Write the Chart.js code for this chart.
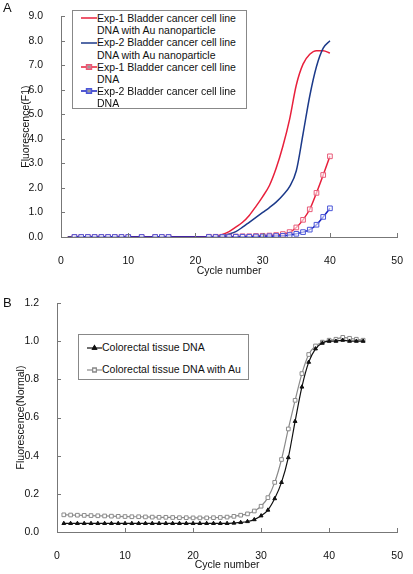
<!DOCTYPE html>
<html>
<head>
<meta charset="utf-8">
<script src="https://cdn.jsdelivr.net/npm/chart.js@4.4.1/dist/chart.umd.min.js"></script>
<style>
  body { margin: 0; background: #fff; font-family: "Liberation Sans", Arial, sans-serif; color: #111; }
  #wrap { position: relative; width: 413px; height: 574px; overflow: hidden; }
  canvas.chart { position: absolute; left: 0; }
  .letter { position: absolute; font-size: 13px; }
  .legend { position: absolute; background: #fff; border: 1px solid #888; box-sizing: border-box; font-size: 10.5px; }
  .legend .item { position: relative; }
  .legend canvas { position: absolute; }
</style>
</head>
<body>
<div id="wrap">
  <canvas id="chartA" class="chart" width="413" height="280" style="top:0"></canvas>
  <canvas id="chartB" class="chart" width="413" height="294" style="top:280px"></canvas>
  <div class="letter" style="left:3px;top:0px">A</div>
  <div class="letter" style="left:3px;top:295px">B</div>
  <div id="legendA" class="legend" style="left:72px;top:10px;width:175px;height:99px;padding-top:1px"></div>
  <div id="legendB" class="legend" style="left:78px;top:334px;width:171px;height:46px;padding-top:6px"></div>
</div>
<script>
// ---- Panel A data ----
const cyclesAu = [1,2,3,4,5,6,7,8,9,10,11,12,13,14,15,16,17,18,19,20,
                  21,22,23,24,25,26,27,28,29,30,31,32,33,34,35,36,37,38,39,40];
const exp1Au = [0,0,0,0,0,0,0,0,0,0,0,0,0,0,0,0,0,0,0,0,
                0,0,0.03,0.1,0.22,0.4,0.6,0.88,1.25,1.65,2.1,2.8,3.7,4.8,6.2,7.05,7.45,7.6,7.6,7.5];
const exp2Au = [0,0,0,0,0,0,0,0,0,0,0,0,0,0,0,0,0,0,0,0,
                0,0,0.01,0.05,0.12,0.22,0.4,0.6,0.8,1.0,1.2,1.42,1.7,2.05,2.7,4.2,5.75,6.95,7.7,8.0];
const cyclesDna = [2,3,4,5,6,7,8,9,10,12,14,15,16,22,23,24,25,26,27,28,29,30,31,32,33,34,35,36,37,38,39,40];
const exp1Dna = [0,0,0,0,0,0,0,0,0,0,0,0,0,0.01,0.01,0.01,0.02,0.02,0.03,0.03,0.04,0.05,0.06,0.08,0.12,0.2,0.39,0.7,1.13,1.8,2.53,3.29];
const exp2Dna = [0,0,0,0,0,0,0,0,0,0,0,0,0,0,0,0,0,0.01,0.01,0.01,0.02,0.02,0.03,0.04,0.05,0.08,0.13,0.2,0.3,0.5,0.82,1.17];
const labelsA = [
  ['Exp-1 Bladder cancer cell line', 'DNA with Au nanoparticle'],
  ['Exp-2 Bladder cancer cell line', 'DNA with Au nanoparticle'],
  ['Exp-1 Bladder cancer cell line', 'DNA'],
  ['Exp-2 Bladder cancer cell line', 'DNA']
];

// ---- Panel B data ----
const cyclesB = [1,2,3,4,5,6,7,8,9,10,11,12,13,14,15,16,17,18,19,20,21,22,23,
                 24,25,26,27,28,29,30,31,32,33,34,35,36,37,38,39,40,41,42,43,44,45];
const tissueDna = [0.045,0.045,0.045,0.045,0.045,0.045,0.045,0.045,0.045,0.045,0.045,0.045,0.045,0.045,0.045,
                   0.045,0.045,0.045,0.045,0.045,0.045,0.045,0.045,0.045,0.045,0.047,0.05,0.055,0.065,0.085,
                   0.115,0.175,0.26,0.39,0.58,0.76,0.89,0.96,0.99,1.0,1.0,1.005,1.0,1.0,1.0];
const tissueAu = [0.09,0.089,0.088,0.087,0.086,0.085,0.084,0.083,0.082,0.081,0.08,0.08,0.079,0.078,0.077,
                  0.077,0.076,0.075,0.075,0.074,0.074,0.074,0.075,0.076,0.078,0.082,0.088,0.095,0.11,0.135,
                  0.18,0.26,0.38,0.54,0.69,0.83,0.93,0.975,0.995,1.005,1.01,1.02,1.015,1.01,1.005];
const labelsB = [['Colorectal tissue DNA'], ['Colorectal tissue DNA with Au']];

const FONT = { family: '"Liberation Sans", Arial, sans-serif', size: 10.5 };
const AXIS = '#777';

function pts(xs, ys) {
  return xs.map((x, i) => ({ x: x, y: ys[i] }));
}

// small inward tick marks, like the original
const inwardTicks = {
  id: 'inwardTicks',
  afterDraw(chart) {
    const { ctx, scales: { x, y } } = chart;
    ctx.save();
    ctx.strokeStyle = AXIS;
    ctx.lineWidth = 1;
    ctx.beginPath();
    x.ticks.forEach(t => {
      const px = Math.round(x.getPixelForValue(t.value)) + 0.5;
      ctx.moveTo(px, x.top); ctx.lineTo(px, x.top - 4);
    });
    y.ticks.forEach(t => {
      const py = Math.round(y.getPixelForValue(t.value)) + 0.5;
      ctx.moveTo(y.right, py); ctx.lineTo(y.right + 4, py);
    });
    ctx.stroke();
    ctx.restore();
  }
};

function makeOptions(cfg) {
  return {
    responsive: false,
    animation: false,
    devicePixelRatio: 1,
    layout: { padding: cfg.padding },
    plugins: { legend: { display: false }, tooltip: { enabled: false } },
    scales: {
      x: {
        type: 'linear', min: 0, max: 50,
        grid: { display: false },
        border: { display: true, color: AXIS, width: 1 },
        ticks: { stepSize: 10, padding: 10, color: '#111', font: FONT, maxRotation: 0 },
        title: { display: true, text: 'Cycle number', color: '#111', font: FONT, padding: { top: 0, bottom: 3 } },
        afterFit(s) { s.height = cfg.xHeight; }
      },
      y: {
        type: 'linear', min: cfg.yMin, max: cfg.yMax,
        grid: { display: false },
        border: { display: true, color: AXIS, width: 1 },
        ticks: { stepSize: cfg.yStep, padding: cfg.yPad, color: '#111', font: FONT,
                 callback: v => v.toFixed(1) },
        title: { display: true, text: cfg.yTitle, color: '#111', font: FONT, padding: { top: cfg.yTitlePad, bottom: 0 } },
        afterFit(s) { s.width = cfg.yWidth; }
      }
    }
  };
}

const chartA = new Chart(document.getElementById('chartA'), {
  type: 'line',
  data: {
    datasets: [
      { label: labelsA[0], data: pts(cyclesAu, exp1Au), borderColor: '#e8203c', borderWidth: 1.5,
        pointRadius: 0, cubicInterpolationMode: 'monotone', order: 3 },
      { label: labelsA[1], data: pts(cyclesAu, exp2Au), borderColor: '#1c3a8a', borderWidth: 1.5,
        pointRadius: 0, cubicInterpolationMode: 'monotone', order: 2 },
      { label: labelsA[2], data: pts(cyclesDna, exp1Dna), borderColor: '#e8203c', borderWidth: 1.5,
        pointStyle: 'rect', pointRadius: 3.3, pointBorderWidth: 1, pointBorderColor: '#e85a78',
        pointBackgroundColor: 'rgba(255,255,255,0.6)', cubicInterpolationMode: 'monotone', order: 1 },
      { label: labelsA[3], data: pts(cyclesDna, exp2Dna), borderColor: '#1a22c0', borderWidth: 1.5,
        pointStyle: 'rect', pointRadius: 3.3, pointBorderWidth: 1, pointBorderColor: '#4a55d8',
        pointBackgroundColor: 'rgba(255,255,255,0.6)', cubicInterpolationMode: 'monotone', order: 0 }
    ]
  },
  options: makeOptions({ padding: { left: 0, top: 7, right: 12, bottom: 0 }, xHeight: 43,
    yMin: 0, yMax: 9, yStep: 1, yPad: 10, yWidth: 61, yTitle: 'Fluorescence(F1)', yTitlePad: 20 }),
  plugins: [inwardTicks]
});

const chartB = new Chart(document.getElementById('chartB'), {
  type: 'line',
  data: {
    datasets: [
      { label: labelsB[0], data: pts(cyclesB, tissueDna), borderColor: '#111', borderWidth: 1.2,
        pointStyle: 'triangle', pointRadius: 2.2, pointBorderWidth: 1, pointBorderColor: '#111',
        pointBackgroundColor: '#111', cubicInterpolationMode: 'monotone' },
      { label: labelsB[1], data: pts(cyclesB, tissueAu), borderColor: '#8a8a8a', borderWidth: 1.2,
        pointStyle: 'rect', pointRadius: 2.6, pointBorderWidth: 1, pointBorderColor: '#8a8a8a',
        pointBackgroundColor: '#fff', cubicInterpolationMode: 'monotone' }
    ]
  },
  options: makeOptions({ padding: { left: 0, top: 23, right: 9, bottom: 0 }, xHeight: 42,
    yMin: 0, yMax: 1.2, yStep: 0.2, yPad: 10, yWidth: 57, yTitle: 'Fluorescence(Normal)', yTitlePad: 15 }),
  plugins: [inwardTicks]
});

// HTML legends built from the datasets
function buildLegend(chart, el, opts) {
  chart.data.datasets.forEach(ds => {
    const item = document.createElement('div');
    item.className = 'item';
    item.style.paddingLeft = opts.textLeft + 'px';
    item.style.lineHeight = opts.lineHeight + 'px';
    item.style.marginBottom = opts.gap + 'px';
    item.innerHTML = ds.label.join('<br>');
    const cv = document.createElement('canvas');
    cv.width = opts.sampleW; cv.height = 10;
    cv.style.left = opts.sampleLeft + 'px';
    cv.style.top = (opts.lineHeight / 2 - 5) + 'px';
    const c = cv.getContext('2d');
    c.strokeStyle = ds.borderColor; c.lineWidth = ds.borderWidth;
    c.beginPath(); c.moveTo(0, 5); c.lineTo(opts.sampleW, 5); c.stroke();
    if (ds.pointRadius > 0) {
      Chart.helpers.drawPoint(c, {
        pointStyle: ds.pointStyle, radius: ds.pointRadius, borderWidth: ds.pointBorderWidth,
        rotation: 0
      }, opts.sampleW / 2, 5);
      c.fillStyle = ds.pointBackgroundColor; c.strokeStyle = ds.pointBorderColor;
      c.fill(); c.stroke();
    }
    item.appendChild(cv);
    el.appendChild(item);
  });
}

buildLegend(chartA, document.getElementById('legendA'),
  { textLeft: 24, sampleLeft: 8, sampleW: 16, lineHeight: 12.2, gap: 0 });
buildLegend(chartB, document.getElementById('legendB'),
  { textLeft: 23, sampleLeft: 8, sampleW: 15, lineHeight: 13, gap: 9 });
</script>
</body>
</html>
